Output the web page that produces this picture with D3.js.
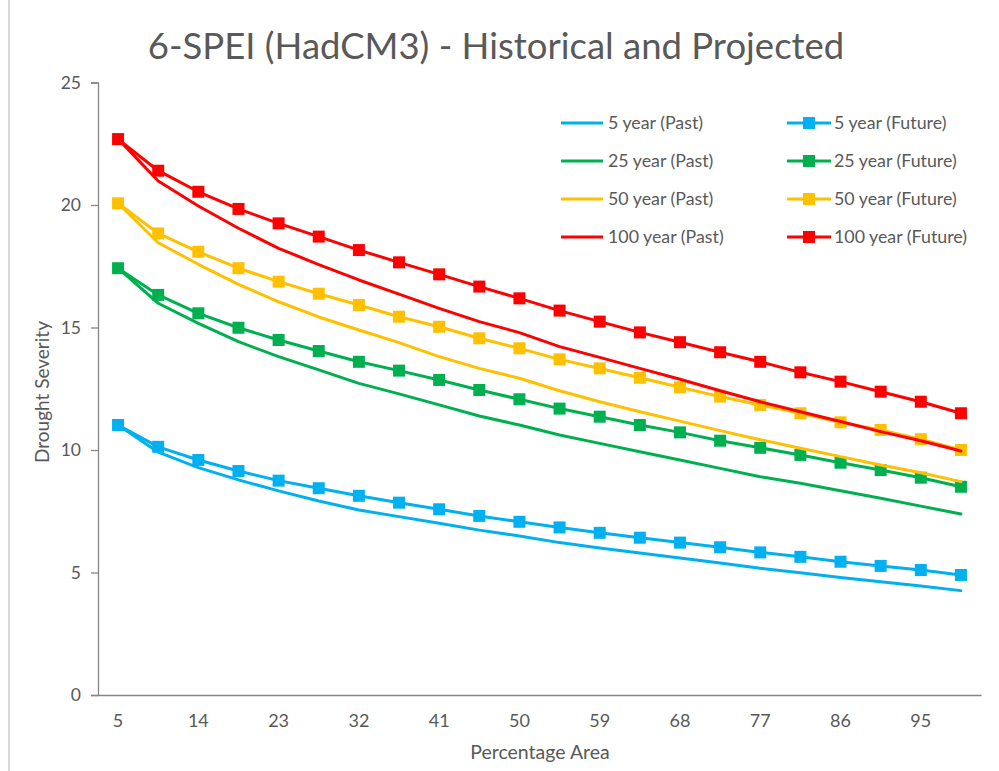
<!DOCTYPE html>
<html>
<head>
<meta charset="utf-8">
<script src="https://cdn.jsdelivr.net/npm/d3@7"></script>
<style>
  html, body { margin: 0; padding: 0; background: #fff; }
  svg { display: block; font-family: Lato, "Open Sans", sans-serif; }
</style>
</head>
<body>
<svg id="chart" width="999" height="771"></svg>
<script>
// Percentage-area categories along the x axis
const categories = [5, 9.5, 14, 18.5, 23, 27.5, 32, 36.5, 41, 45.5, 50,
                    54.5, 59, 63.5, 68, 72.5, 77, 81.5, 86, 90.5, 95, 99.5];

// Drought severity per return period, historical (past) runs
const past5   = [11.02, 9.91, 9.28, 8.78, 8.33, 7.92, 7.55, 7.28, 7.01, 6.73, 6.49,
                 6.22, 6.00, 5.80, 5.59, 5.39, 5.17, 4.99, 4.80, 4.62, 4.45, 4.26];
const past25  = [17.42, 15.99, 15.17, 14.42, 13.81, 13.27, 12.72, 12.29, 11.84, 11.39, 11.02,
                 10.61, 10.27, 9.93, 9.59, 9.25, 8.91, 8.64, 8.34, 8.03, 7.71, 7.39];
const past50  = [20.07, 18.46, 17.58, 16.76, 16.05, 15.43, 14.90, 14.38, 13.81, 13.33, 12.93,
                 12.42, 11.97, 11.56, 11.18, 10.79, 10.42, 10.07, 9.73, 9.39, 9.07, 8.71];
const past100 = [22.70, 20.98, 19.96, 19.05, 18.23, 17.57, 16.94, 16.36, 15.78, 15.24, 14.79,
                 14.22, 13.78, 13.33, 12.89, 12.42, 11.97, 11.56, 11.16, 10.75, 10.38, 9.96];

// Drought severity per return period, projected (future) runs
const future5   = [11.02, 10.13, 9.59, 9.14, 8.75, 8.44, 8.13, 7.85, 7.58, 7.31, 7.07,
                   6.84, 6.62, 6.42, 6.22, 6.03, 5.82, 5.64, 5.44, 5.27, 5.10, 4.90];
const future25  = [17.42, 16.33, 15.58, 14.99, 14.49, 14.04, 13.60, 13.24, 12.86, 12.45, 12.07,
                   11.69, 11.36, 11.02, 10.72, 10.38, 10.09, 9.80, 9.48, 9.18, 8.87, 8.50];
const future50  = [20.07, 18.84, 18.09, 17.42, 16.87, 16.38, 15.92, 15.44, 15.03, 14.56, 14.15,
                   13.70, 13.33, 12.95, 12.56, 12.18, 11.84, 11.50, 11.13, 10.82, 10.44, 10.00];
const future100 = [22.69, 21.40, 20.54, 19.84, 19.25, 18.71, 18.16, 17.66, 17.17, 16.67, 16.19,
                   15.69, 15.24, 14.80, 14.40, 13.99, 13.60, 13.17, 12.79, 12.38, 11.97, 11.50];

const yTicks = [0, 5, 10, 15, 20, 25];

const series = [
  { name: "5 year (Past)",     values: past5,     color: "#00B0F0", marker: false },
  { name: "5 year (Future)",   values: future5,   color: "#00B0F0", marker: true },
  { name: "25 year (Past)",    values: past25,    color: "#00B050", marker: false },
  { name: "25 year (Future)",  values: future25,  color: "#00B050", marker: true },
  { name: "50 year (Past)",    values: past50,    color: "#FFC000", marker: false },
  { name: "50 year (Future)",  values: future50,  color: "#FFC000", marker: true },
  { name: "100 year (Past)",   values: past100,   color: "#FF0000", marker: false },
  { name: "100 year (Future)", values: future100, color: "#FF0000", marker: true }
];

const svg = d3.select("#chart");
const textColor = "#595959";
const axisColor = "#868686";
const fontStack = "Lato, 'Open Sans', sans-serif";

// chart-area frame on the left edge
svg.append("line")
  .attr("x1", 9).attr("x2", 9).attr("y1", 0).attr("y2", 771)
  .attr("stroke", "#d9d9d9").attr("stroke-width", 2);

const plot = { left: 98, right: 981, top: 82.5, bottom: 695 };

const x = d3.scaleBand()
  .domain(d3.range(categories.length))
  .range([plot.left, plot.right])
  .padding(0);
const xc = i => x(i) + x.bandwidth() / 2;

const y = d3.scaleLinear().domain([0, 25]).range([plot.bottom, plot.top]);

// title
svg.append("text")
  .attr("x", 496).attr("y", 59)
  .attr("text-anchor", "middle")
  .attr("fill", textColor)
  .attr("font-size", 36.5)
  .text("6-SPEI (HadCM3) - Historical and Projected");

// y axis
const yAxis = svg.append("g")
  .attr("transform", `translate(${plot.left},0)`)
  .call(d3.axisLeft(y).tickValues(yTicks).tickSize(7).tickPadding(10));
yAxis.select(".domain").attr("stroke", axisColor).attr("stroke-width", 1.3);
yAxis.selectAll(".tick line").attr("stroke", axisColor).attr("stroke-width", 1.3);
yAxis.selectAll(".tick text")
  .attr("fill", textColor).attr("font-size", 17.5)
  .attr("font-family", fontStack);

// x axis
const xAxis = svg.append("g")
  .attr("transform", `translate(0,${plot.bottom})`)
  .call(d3.axisBottom(x)
    .tickValues(d3.range(0, categories.length, 2))
    .tickFormat(i => categories[i])
    .tickSize(0).tickPadding(19));
xAxis.select(".domain").attr("stroke", axisColor).attr("stroke-width", 1.3);
xAxis.selectAll(".tick text")
  .attr("fill", textColor).attr("font-size", 18)
  .attr("font-family", fontStack);

// axis titles
svg.append("text")
  .attr("x", 540).attr("y", 759)
  .attr("text-anchor", "middle")
  .attr("fill", textColor).attr("font-size", 19.5)
  .text("Percentage Area");

svg.append("text")
  .attr("transform", "translate(49,392) rotate(-90)")
  .attr("text-anchor", "middle")
  .attr("fill", textColor).attr("font-size", 19)
  .text("Drought Severity");

// series lines and markers
const line = d3.line().x((d, i) => xc(i)).y(d => y(d));
const markerSize = 12;

series.forEach(s => {
  const g = svg.append("g");
  g.append("path")
    .datum(s.values)
    .attr("d", line)
    .attr("fill", "none")
    .attr("stroke", s.color)
    .attr("stroke-width", 3)
    .attr("stroke-linejoin", "round")
    .attr("stroke-linecap", "round");
  if (s.marker) {
    g.selectAll("rect")
      .data(s.values)
      .join("rect")
      .attr("x", (d, i) => xc(i) - markerSize / 2)
      .attr("y", d => y(d) - markerSize / 2)
      .attr("width", markerSize)
      .attr("height", markerSize)
      .attr("fill", s.color);
  }
});

// legend: two columns, past on the left and future on the right
const legendRows = [123, 161, 199, 237];
const legendCols = [
  { lineX1: 561, lineX2: 603, textX: 608 },
  { lineX1: 787, lineX2: 831, textX: 834 }
];
series.forEach((s, k) => {
  const col = legendCols[k % 2];
  const rowY = legendRows[Math.floor(k / 2)];
  const g = svg.append("g");
  g.append("line")
    .attr("x1", col.lineX1).attr("x2", col.lineX2)
    .attr("y1", rowY).attr("y2", rowY)
    .attr("stroke", s.color).attr("stroke-width", 3);
  if (s.marker) {
    const mx = (col.lineX1 + col.lineX2) / 2;
    g.append("rect")
      .attr("x", mx - 6).attr("y", rowY - 6)
      .attr("width", 12).attr("height", 12)
      .attr("fill", s.color);
  }
  g.append("text")
    .attr("x", col.textX).attr("y", rowY + 6)
    .attr("fill", textColor).attr("font-size", 17.8)
    .text(s.name);
});
</script>
</body>
</html>
